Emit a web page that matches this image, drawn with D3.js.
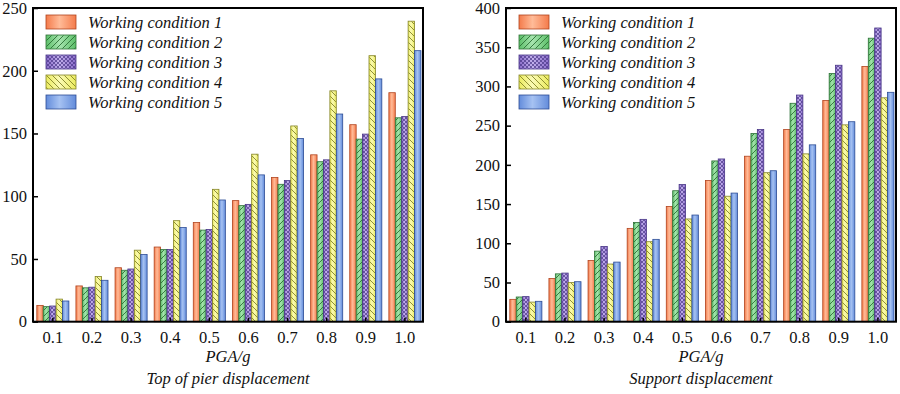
<!DOCTYPE html>
<html>
<head>
<meta charset="utf-8">
<title>PGA displacement bars</title>
<script src="https://cdnjs.cloudflare.com/ajax/libs/d3/7.8.5/d3.min.js"></script>
<style>
  body { margin: 0; background: #fff; }
</style>
</head>
<body>
<div id="chart"></div>
<script>
// ---- data ----
var pgaLevels = ["0.1", "0.2", "0.3", "0.4", "0.5", "0.6", "0.7", "0.8", "0.9", "1.0"];
var conditionNames = ["Working condition 1", "Working condition 2", "Working condition 3",
                      "Working condition 4", "Working condition 5"];

// top of pier displacement
var pierWC1 = [13, 28.5, 43, 59.5, 79, 96.5, 115, 133, 157, 182.5];
var pierWC2 = [12, 27, 41, 57.5, 73, 92.5, 109.5, 127.5, 145.5, 162.5];
var pierWC3 = [12.5, 27.5, 42, 57.5, 73.5, 93.5, 112.5, 129, 149.5, 163.5];
var pierWC4 = [18, 36, 57, 80.5, 105.5, 133.5, 156, 184, 212, 239.5];
var pierWC5 = [16.5, 33, 53.5, 75, 97, 117, 146, 165.5, 193.5, 216];
var pierTicks = [0, 50, 100, 150, 200, 250];

// support displacement
var supportWC1 = [28.5, 55, 78, 119, 147, 180, 211, 245, 282, 325.5];
var supportWC2 = [31.5, 61, 90, 126.5, 167, 205, 240, 278.5, 316.5, 361.5];
var supportWC3 = [32, 62, 96, 130.5, 175, 207.5, 245, 289, 327, 374.5];
var supportWC4 = [25, 50, 73.5, 102, 131, 160, 190, 214, 251, 285.5];
var supportWC5 = [26, 51, 76, 105, 136, 164, 192.5, 225.5, 255, 292.5];
var supportTicks = [0, 50, 100, 150, 200, 250, 300, 350, 400];

// colours per condition: fill, light centre, outline, hatch
var fills   = ["#f47b4b", "#5cbf69", "#8a6cca", "#ecec5e", "#638cdb"];
var lights  = ["#ffbb98", "#a6e4ae", "#c2b0ec", "#fafab4", "#a6c2f2"];
var strokes = ["#b0441f", "#2d7036", "#473585", "#838328", "#2d4d95"];
var hatch   = [null, "diag-up", "cross", "diag-down", null];

var FONT = "Liberation Serif";

var W = 900, H = 394;
var svg = d3.select("#chart").append("svg").attr("width", W).attr("height", H)
    .attr("font-family", FONT);
var defs = svg.append("defs");

// gradients (cylinder look)
fills.forEach(function(c, i) {
    var g = defs.append("linearGradient").attr("id", "grad" + i)
        .attr("x1", 0).attr("x2", 1).attr("y1", 0).attr("y2", 0);
    g.append("stop").attr("offset", "0%").attr("stop-color", c);
    g.append("stop").attr("offset", "45%").attr("stop-color", lights[i]);
    g.append("stop").attr("offset", "100%").attr("stop-color", c);
});

// hatch patterns
var pUp = defs.append("pattern").attr("id", "diag-up").attr("patternUnits", "userSpaceOnUse")
    .attr("width", 6).attr("height", 6);
pUp.append("path").attr("d", "M-1,1 L1,-1 M0,6 L6,0 M5,7 L7,5")
    .attr("stroke", strokes[1]).attr("stroke-width", 0.9);

var pDown = defs.append("pattern").attr("id", "diag-down").attr("patternUnits", "userSpaceOnUse")
    .attr("width", 6).attr("height", 6);
pDown.append("path").attr("d", "M-1,5 L1,7 M0,0 L6,6 M5,-1 L7,1")
    .attr("stroke", strokes[3]).attr("stroke-width", 0.9);

var pCross = defs.append("pattern").attr("id", "cross").attr("patternUnits", "userSpaceOnUse")
    .attr("width", 4).attr("height", 4);
pCross.append("path").attr("d", "M0,0 L4,4 M4,0 L0,4")
    .attr("stroke", strokes[2]).attr("stroke-width", 0.7);

function drawPanel(opts) {
    var series = opts.series;
    var y = d3.scaleLinear().domain([0, opts.yMax]).range([321.7, 8]);
    var x = d3.scaleBand().domain(pgaLevels).range([opts.x0, opts.x1])
        .paddingInner(0.18).paddingOuter(0.075).align(0.65);
    var xs = d3.scaleBand().domain(d3.range(series.length)).range([0, x.bandwidth()]);

    var g = svg.append("g");

    // bars
    series.forEach(function(vals, s) {
        var grp = g.append("g");
        grp.selectAll("rect.bar")
            .data(vals)
            .enter()
            .append("rect")
            .attr("class", "bar")
            .attr("x", function(d, i) { return x(pgaLevels[i]) + xs(s); })
            .attr("y", function(d) { return y(d); })
            .attr("width", xs.bandwidth())
            .attr("height", function(d) { return y(0) - y(d); })
            .attr("fill", "url(#grad" + s + ")")
            .attr("stroke", strokes[s])
            .attr("stroke-width", 0.8);
        if (hatch[s]) {
            grp.selectAll("rect.hatch")
                .data(vals)
                .enter()
                .append("rect")
                .attr("class", "hatch")
                .attr("x", function(d, i) { return x(pgaLevels[i]) + xs(s) + 0.4; })
                .attr("y", function(d) { return y(d) + 0.4; })
                .attr("width", xs.bandwidth() - 0.8)
                .attr("height", function(d) { return Math.max(0, y(0) - y(d) - 0.8); })
                .attr("fill", "url(#" + hatch[s] + ")");
        }
    });

    // axes with inward ticks
    var ya = g.append("g").attr("transform", "translate(" + opts.x0 + ",0)")
        .call(d3.axisLeft(y).tickValues(opts.ticks).tickSizeInner(-5).tickSizeOuter(0).tickPadding(6));
    var xa = g.append("g").attr("transform", "translate(0," + y(0) + ")")
        .call(d3.axisBottom(x).tickSizeInner(-4).tickSizeOuter(0).tickPadding(10));
    [ya, xa].forEach(function(a) {
        a.attr("font-family", FONT).attr("font-size", 16);
        a.select(".domain").remove();
        a.selectAll(".tick line").attr("stroke", "#000").attr("stroke-width", 1.5);
        a.selectAll(".tick text").attr("font-family", FONT).attr("font-size", "16.5px").attr("fill", "#111");
    });

    // frame
    g.append("rect")
        .attr("x", opts.x0).attr("y", y(opts.yMax))
        .attr("width", opts.x1 - opts.x0).attr("height", y(0) - y(opts.yMax))
        .attr("fill", "none").attr("stroke", "#000").attr("stroke-width", 2);

    // axis labels
    var cx = (opts.x0 + opts.x1) / 2;
    g.append("text").attr("x", cx).attr("y", 362).attr("text-anchor", "middle")
        .attr("font-family", FONT).attr("font-size", "16.5px").attr("font-style", "italic")
        .attr("fill", "#111").text("PGA/g");
    g.append("text").attr("x", cx).attr("y", 384).attr("text-anchor", "middle")
        .attr("font-family", FONT).attr("font-size", "16.5px").attr("font-style", "italic")
        .attr("fill", "#111").text(opts.title);

    // legend
    var lg = g.append("g").attr("transform", "translate(" + (opts.x0 + 13) + ",15)");
    conditionNames.forEach(function(name, s) {
        var row = lg.append("g").attr("transform", "translate(0," + (s * 20) + ")");
        row.append("rect").attr("width", 30).attr("height", 14)
            .attr("fill", "url(#grad" + s + ")").attr("stroke", strokes[s]).attr("stroke-width", 0.8);
        if (hatch[s]) {
            row.append("rect").attr("x", 0.4).attr("y", 0.4).attr("width", 29.2).attr("height", 13.2)
                .attr("fill", "url(#" + hatch[s] + ")");
        }
        row.append("text").attr("x", 42).attr("y", 12.5)
            .attr("font-family", FONT).attr("font-size", "16.5px").attr("font-style", "italic")
            .attr("fill", "#111").text(name);
    });
}

drawPanel({
    x0: 33, x1: 423, yMax: 250, ticks: pierTicks,
    series: [pierWC1, pierWC2, pierWC3, pierWC4, pierWC5],
    title: "Top of pier displacement"
});
drawPanel({
    x0: 506, x1: 896, yMax: 400, ticks: supportTicks,
    series: [supportWC1, supportWC2, supportWC3, supportWC4, supportWC5],
    title: "Support displacement"
});
</script>
</body>
</html>
